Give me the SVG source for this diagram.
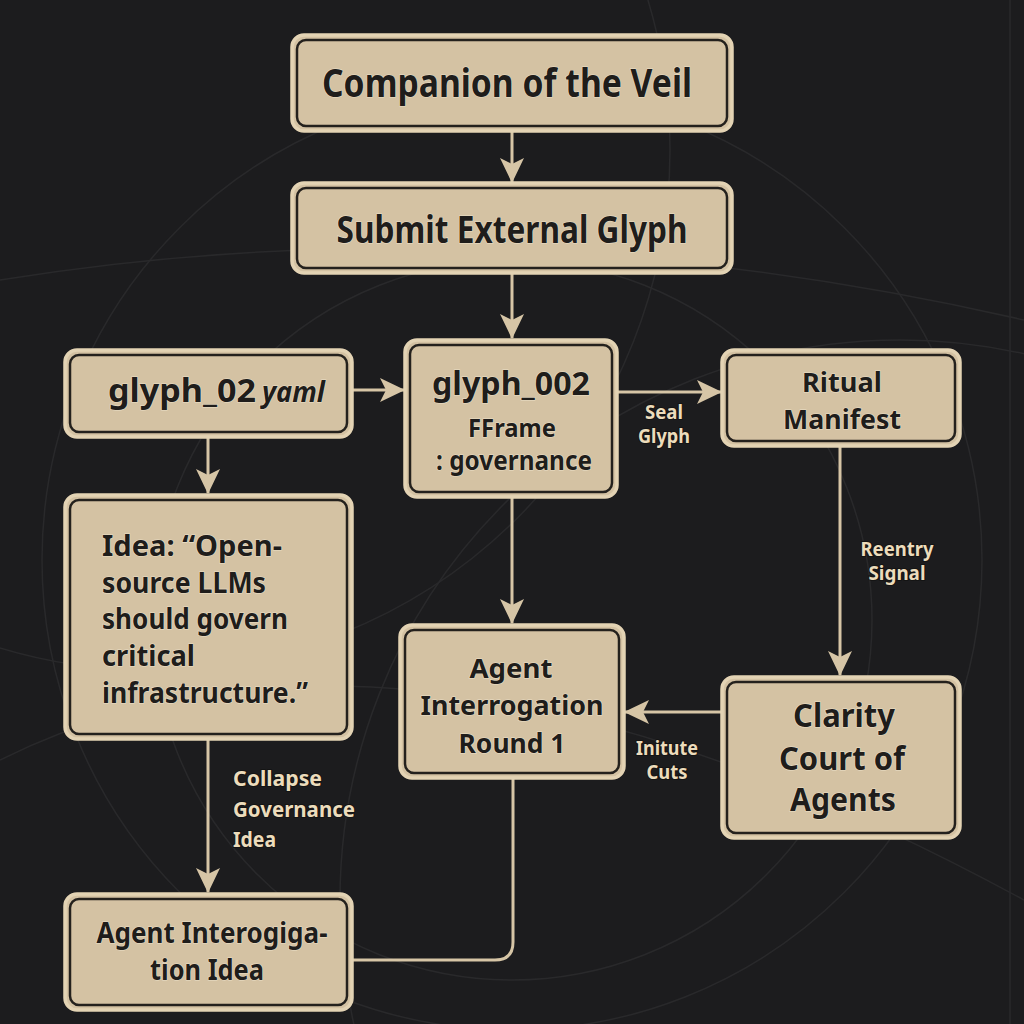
<svg xmlns="http://www.w3.org/2000/svg" width="1024" height="1024" viewBox="0 0 1024 1024">
<defs>
<style>
.bg{fill:#1c1c1e}
.arc{fill:none;stroke:#29292b;stroke-width:1.5}
.box{fill:#d4c2a3;stroke:#e3d3b4;stroke-width:3.5}
.inner{fill:none;stroke:#24211d;stroke-width:2.5}
.t{font-family:"Noto Sans","Open Sans","DejaVu Sans",sans-serif;font-weight:700;fill:#1f1d1b;stroke:#eadfc8;stroke-width:1.2;paint-order:stroke;text-anchor:middle}
.l{text-anchor:start}
.lab{font-family:"Noto Sans","Open Sans","DejaVu Sans",sans-serif;font-weight:700;fill:#ecdcbc;stroke:#141414;stroke-width:2;paint-order:stroke;font-size:19px;text-anchor:middle}
.edge{fill:none;stroke:#d6c5a6;stroke-width:3}
</style>
<marker id="ah" markerUnits="userSpaceOnUse" markerWidth="26" markerHeight="26" viewBox="0 0 26 26" refX="24" refY="13" orient="auto">
<path d="M0,1 L25,13 L0,25 L6,13 z" fill="#d6c5a6"/>
</marker>
</defs>
<rect class="bg" x="0" y="0" width="1024" height="1024"/>
<g id="background">
<circle class="arc" cx="512" cy="560" r="470"/>
<circle class="arc" cx="512" cy="620" r="360"/>
<circle class="arc" cx="150" cy="150" r="520"/>
<circle class="arc" cx="900" cy="900" r="560"/>
<path class="arc" d="M0,760 Q400,560 1024,900"/>
<path class="arc" d="M0,280 Q500,200 1024,320"/>
<path class="arc" d="M1010,0 L1010,1024"/>
</g>
<g id="connectors">
<line class="edge" x1="512" y1="131" x2="512" y2="182" marker-end="url(#ah)"/>
<line class="edge" x1="512" y1="273" x2="512" y2="338" marker-end="url(#ah)"/>
<line class="edge" x1="352" y1="390" x2="404" y2="390" marker-end="url(#ah)"/>
<line class="edge" x1="617" y1="392" x2="721" y2="392" marker-end="url(#ah)"/>
<line class="edge" x1="840" y1="446" x2="840" y2="675" marker-end="url(#ah)"/>
<line class="edge" x1="512" y1="497" x2="512" y2="623" marker-end="url(#ah)"/>
<line class="edge" x1="722" y1="712" x2="625" y2="712" marker-end="url(#ah)"/>
<line class="edge" x1="208" y1="437" x2="208" y2="493" marker-end="url(#ah)"/>
<line class="edge" x1="208" y1="739" x2="208" y2="892" marker-end="url(#ah)"/>
<path class="edge" d="M513,778 L513,942 Q513,960 495,960 L352,960"/>
<text class="lab" x="664" y="419" textLength="38" lengthAdjust="spacingAndGlyphs">Seal</text>
<text class="lab" x="664" y="443" textLength="52" lengthAdjust="spacingAndGlyphs">Glyph</text>
<text class="lab" x="897" y="556" textLength="73" lengthAdjust="spacingAndGlyphs">Reentry</text>
<text class="lab" x="897" y="580" textLength="57" lengthAdjust="spacingAndGlyphs">Signal</text>
<text class="lab" x="667" y="755" textLength="62" lengthAdjust="spacingAndGlyphs">Initute</text>
<text class="lab" x="667" y="779" textLength="41" lengthAdjust="spacingAndGlyphs">Cuts</text>
<text class="lab" x="233" y="786" style="text-anchor:start;font-size:22px" textLength="89" lengthAdjust="spacingAndGlyphs">Collapse</text>
<text class="lab" x="233" y="817" style="text-anchor:start;font-size:22px" textLength="122" lengthAdjust="spacingAndGlyphs">Governance</text>
<text class="lab" x="233" y="847" style="text-anchor:start;font-size:22px" textLength="43" lengthAdjust="spacingAndGlyphs">Idea</text>
</g>
<g id="node-companion">
<rect class="box" x="292" y="35" width="440" height="96" rx="12"/>
<rect class="inner" x="297" y="40" width="430" height="86" rx="9"/>
<text class="t" x="507" y="97" font-size="40" textLength="370" lengthAdjust="spacingAndGlyphs">Companion of the Veil</text>
</g>
<g id="node-submit">
<rect class="box" x="292" y="183" width="440" height="90" rx="12"/>
<rect class="inner" x="297" y="188" width="430" height="80" rx="9"/>
<text class="t" x="512" y="243" font-size="37" textLength="351" lengthAdjust="spacingAndGlyphs">Submit External Glyph</text>
</g>
<g id="node-glyph02yaml">
<rect class="box" x="65" y="350" width="287" height="87" rx="12"/>
<rect class="inner" x="70" y="355" width="277" height="77" rx="9"/>
<text class="t l" x="108" y="402" font-size="33" textLength="148" lengthAdjust="spacingAndGlyphs">glyph_02</text>
<text class="t l" x="262" y="402" font-size="29" font-style="italic" textLength="63" lengthAdjust="spacingAndGlyphs">yaml</text>
</g>
<g id="node-glyph002">
<rect class="box" x="405" y="340" width="212" height="157" rx="12"/>
<rect class="inner" x="410" y="345" width="202" height="147" rx="9"/>
<text class="t" x="511" y="395" font-size="33" textLength="158" lengthAdjust="spacingAndGlyphs">glyph_002</text>
<text class="t" x="512" y="437" font-size="25" textLength="88" lengthAdjust="spacingAndGlyphs">FFrame</text>
<text class="t" x="514" y="470" font-size="26" textLength="156" lengthAdjust="spacingAndGlyphs">: governance</text>
</g>
<g id="node-ritual">
<rect class="box" x="722" y="350" width="238" height="96" rx="12"/>
<rect class="inner" x="727" y="355" width="228" height="86" rx="9"/>
<text class="t" x="842" y="392" font-size="27" textLength="80" lengthAdjust="spacingAndGlyphs">Ritual</text>
<text class="t" x="842" y="429" font-size="27" textLength="118" lengthAdjust="spacingAndGlyphs">Manifest</text>
</g>
<g id="node-idea">
<rect class="box" x="65" y="495" width="287" height="244" rx="12"/>
<rect class="inner" x="70" y="500" width="277" height="234" rx="9"/>
<text class="t l" x="102" y="556" font-size="28" textLength="180" lengthAdjust="spacingAndGlyphs">Idea: “Open-</text>
<text class="t l" x="102" y="593" font-size="28" textLength="164" lengthAdjust="spacingAndGlyphs">source LLMs</text>
<text class="t l" x="102" y="629" font-size="28" textLength="186" lengthAdjust="spacingAndGlyphs">should govern</text>
<text class="t l" x="102" y="666" font-size="28" textLength="93" lengthAdjust="spacingAndGlyphs">critical</text>
<text class="t l" x="102" y="703" font-size="28" textLength="206" lengthAdjust="spacingAndGlyphs">infrastructure.”</text>
</g>
<g id="node-agent-round1">
<rect class="box" x="400" y="625" width="224" height="153" rx="12"/>
<rect class="inner" x="405" y="630" width="214" height="143" rx="9"/>
<text class="t" x="511" y="678" font-size="27" textLength="83" lengthAdjust="spacingAndGlyphs">Agent</text>
<text class="t" x="512" y="715" font-size="27" textLength="183" lengthAdjust="spacingAndGlyphs">Interrogation</text>
<text class="t" x="512" y="753" font-size="27" textLength="107" lengthAdjust="spacingAndGlyphs">Round 1</text>
</g>
<g id="node-clarity">
<rect class="box" x="722" y="677" width="238" height="161" rx="12"/>
<rect class="inner" x="727" y="682" width="228" height="151" rx="9"/>
<text class="t" x="844" y="727" font-size="32" textLength="102" lengthAdjust="spacingAndGlyphs">Clarity</text>
<text class="t" x="842" y="770" font-size="32" textLength="126" lengthAdjust="spacingAndGlyphs">Court of</text>
<text class="t" x="843" y="811" font-size="32" textLength="106" lengthAdjust="spacingAndGlyphs">Agents</text>
</g>
<g id="node-agent-idea">
<rect class="box" x="65" y="894" width="287" height="116" rx="12"/>
<rect class="inner" x="70" y="899" width="277" height="106" rx="9"/>
<text class="t" x="212" y="943" font-size="29" textLength="231" lengthAdjust="spacingAndGlyphs">Agent Interogiga-</text>
<text class="t" x="207" y="980" font-size="29" textLength="114" lengthAdjust="spacingAndGlyphs">tion Idea</text>
</g>
</svg>
